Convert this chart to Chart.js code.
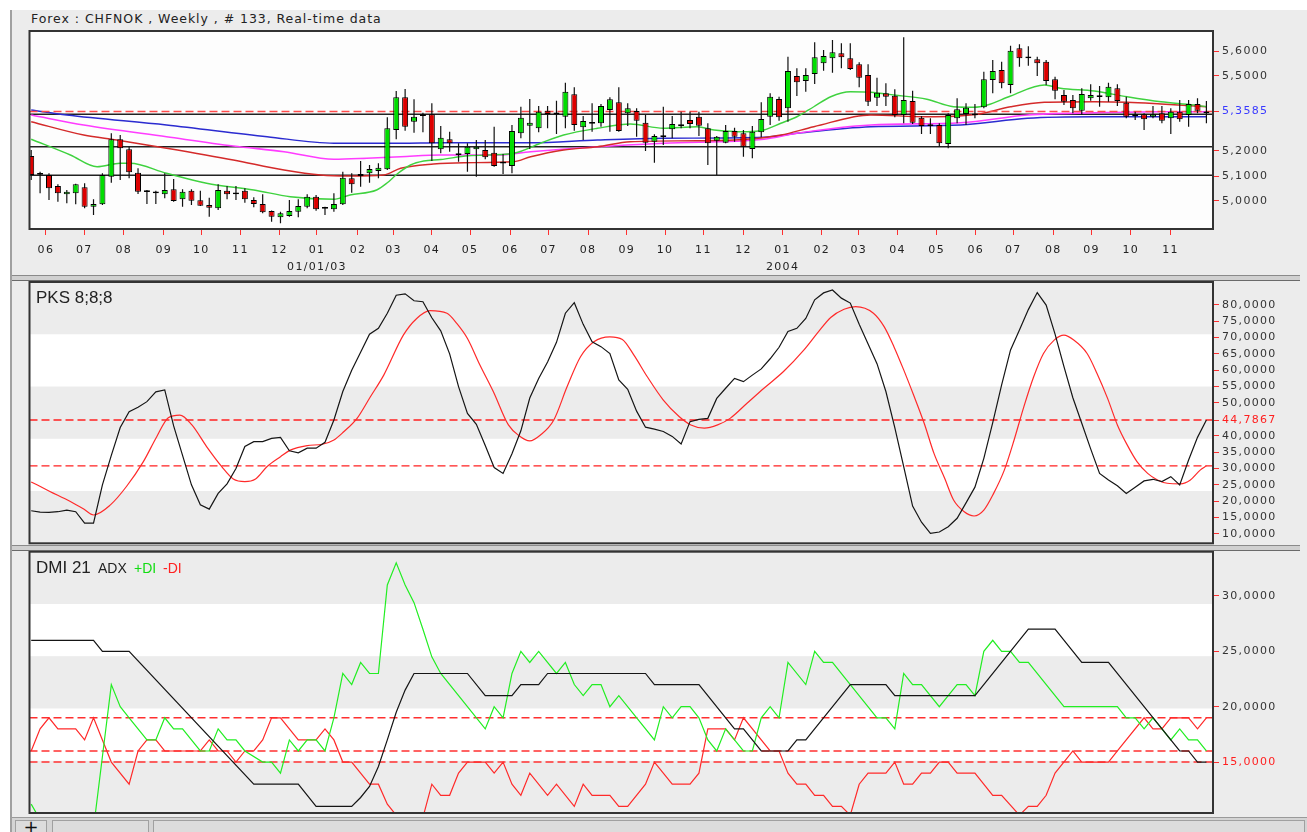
<!DOCTYPE html>
<html><head><meta charset="utf-8">
<script src="https://cdn.jsdelivr.net/npm/chart.js@4.4.1/dist/chart.umd.min.js"></script>
<style>
html,body{margin:0;padding:0;}
body{width:1307px;height:832px;position:relative;background:#ececec;overflow:hidden;font-family:'DejaVu Sans',sans-serif;}
#topstrip{position:absolute;left:0;top:0;width:1307px;height:10px;background:#fff;}
#leftstrip{position:absolute;left:0;top:0;width:10px;height:832px;background:#fff;}
#leftline{position:absolute;left:10px;top:10px;width:2px;height:822px;background:#a0a0a0;}
canvas{position:absolute;left:0;}
.split{position:absolute;left:12px;width:1288px;height:4px;background:#d0d0d0;border-top:1px solid #8a8a8a;border-bottom:1px solid #6a6a6a;}
#title{position:absolute;left:31px;top:12px;font-size:12.5px;letter-spacing:0.95px;color:#222;white-space:nowrap;line-height:14px;}
.lbl{position:absolute;font-family:'Liberation Sans',Arial,sans-serif;white-space:nowrap;line-height:17px;}
#status{position:absolute;left:12px;top:817px;width:1295px;height:15px;background:#d4d4d4;border-top:1px solid #9a9a9a;}
.sbox{position:absolute;top:2px;height:13px;background:#dcdcdc;border:1px solid #a0a0a0;border-bottom:none;}
</style></head>
<body>
<div id="topstrip"></div><div id="leftstrip"></div><div id="leftline"></div>
<div id="title">Forex : CHFNOK , Weekly , # 133, Real-time data</div>
<canvas id="c1" width="1307" height="265" style="top:10px"></canvas>
<canvas id="c2" width="1307" height="266" style="top:280px"></canvas>
<canvas id="c3" width="1307" height="266" style="top:550px"></canvas>
<div class="split" style="top:275px"></div>
<div class="split" style="top:545px"></div>
<div class="lbl" style="left:36px;top:289px;font-size:17px;color:#222">PKS 8;8;8</div>
<div class="lbl" style="left:36px;top:559px;font-size:17px;color:#222">DMI 21</div>
<div class="lbl" style="left:98px;top:560px;font-size:14px;color:#222">ADX</div>
<div class="lbl" style="left:134px;top:560px;font-size:14px;color:#11dd11">+DI</div>
<div class="lbl" style="left:163px;top:560px;font-size:14px;color:#ff2222">-DI</div>
<div id="status">
  <div class="sbox" style="left:3px;width:30px;font-size:18px;line-height:12px;text-align:center;color:#111">+</div>
  <div class="sbox" style="left:40px;width:95px"></div>
  <div class="sbox" style="left:141px;width:1150px"></div>
</div>
<script>
// ---------- DATA ----------
const openP = [5.180,5.108,5.104,5.060,5.027,5.031,5.055,4.977,4.987,5.097,5.247,5.207,5.113,5.041,5.036,5.027,5.047,5.007,5.041,5.003,
4.984,4.971,5.041,5.032,5.041,5.004,4.988,4.960,4.935,4.940,4.957,4.977,5.017,4.974,4.967,4.987,5.091,5.108,5.111,5.120,
5.127,5.284,5.415,5.317,5.345,5.347,5.207,5.247,5.189,5.188,5.207,5.204,5.193,5.155,5.140,5.271,5.301,5.291,5.361,5.352,
5.337,5.427,5.295,5.314,5.311,5.364,5.395,5.351,5.360,5.313,5.237,5.261,5.287,5.305,5.324,5.337,5.291,5.241,5.233,5.280,
5.271,5.208,5.275,5.337,5.408,5.371,5.500,5.480,5.508,5.551,5.571,5.591,5.571,5.547,5.504,5.413,5.431,5.421,5.344,5.400,
5.333,5.305,5.304,5.228,5.331,5.348,5.348,5.375,5.484,5.524,5.464,5.611,5.576,5.567,5.557,5.487,5.424,5.404,5.361,5.411,
5.421,5.415,5.451,5.393,5.345,5.347,5.337,5.351,5.331,5.357,5.344,5.388,5.351];
const highP = [5.204,5.117,5.111,5.067,5.044,5.069,5.071,5.007,5.111,5.271,5.264,5.217,5.131,5.044,5.041,5.111,5.088,5.047,5.047,5.041,
5.013,5.067,5.060,5.060,5.051,5.015,5.027,4.962,4.957,5.004,5.007,5.027,5.024,4.977,5.031,5.117,5.111,5.160,5.144,5.151,
5.335,5.440,5.448,5.407,5.353,5.391,5.300,5.277,5.231,5.231,5.244,5.244,5.297,5.188,5.304,5.377,5.408,5.380,5.380,5.401,
5.473,5.455,5.340,5.391,5.388,5.415,5.455,5.391,5.371,5.344,5.267,5.377,5.340,5.357,5.357,5.357,5.311,5.260,5.304,5.293,
5.284,5.300,5.395,5.431,5.417,5.577,5.531,5.531,5.635,5.604,5.644,5.631,5.631,5.555,5.547,5.493,5.471,5.447,5.655,5.441,
5.340,5.331,5.311,5.351,5.411,5.391,5.388,5.517,5.564,5.557,5.621,5.627,5.619,5.577,5.564,5.497,5.444,5.424,5.451,5.467,
5.460,5.473,5.467,5.417,5.357,5.351,5.380,5.380,5.371,5.404,5.404,5.411,5.400];
const lowP = [5.084,5.031,5.004,4.997,4.991,4.987,4.971,4.944,4.984,5.073,5.084,5.091,5.028,4.988,4.988,5.011,4.997,4.977,4.984,4.980,
4.937,4.964,5.007,5.004,4.993,4.975,4.951,4.917,4.911,4.937,4.935,4.971,4.961,4.944,4.957,4.984,5.033,5.057,5.073,5.091,
5.124,5.247,5.281,5.273,5.275,5.160,5.191,5.197,5.157,5.117,5.097,5.167,5.137,5.108,5.111,5.251,5.208,5.275,5.291,5.268,
5.291,5.281,5.244,5.277,5.297,5.277,5.277,5.300,5.257,5.200,5.153,5.224,5.251,5.291,5.291,5.260,5.144,5.104,5.231,5.237,
5.177,5.171,5.255,5.304,5.321,5.317,5.420,5.437,5.468,5.521,5.513,5.531,5.524,5.455,5.380,5.380,5.380,5.335,5.311,5.308,
5.268,5.268,5.217,5.211,5.311,5.304,5.331,5.371,5.431,5.451,5.431,5.537,5.541,5.500,5.464,5.407,5.384,5.351,5.344,5.401,
5.377,5.397,5.380,5.331,5.324,5.284,5.331,5.311,5.268,5.317,5.297,5.351,5.311];
const closeP = [5.104,5.110,5.051,5.031,5.037,5.067,4.977,4.988,5.104,5.247,5.211,5.115,5.037,5.039,5.034,5.044,5.000,5.037,5.001,4.981,
4.973,5.044,5.027,5.030,5.007,4.988,4.955,4.937,4.951,4.960,4.980,5.017,4.967,4.972,4.988,5.093,5.067,5.100,5.128,5.133,
5.291,5.415,5.297,5.337,5.343,5.231,5.253,5.231,5.187,5.217,5.217,5.175,5.140,5.153,5.280,5.333,5.313,5.357,5.348,5.350,
5.437,5.304,5.320,5.312,5.380,5.407,5.280,5.371,5.321,5.233,5.260,5.259,5.308,5.303,5.308,5.301,5.231,5.257,5.280,5.257,
5.217,5.277,5.328,5.417,5.335,5.520,5.475,5.504,5.575,5.580,5.595,5.575,5.528,5.493,5.397,5.433,5.417,5.344,5.404,5.313,
5.300,5.303,5.231,5.344,5.367,5.373,5.346,5.487,5.520,5.471,5.601,5.571,5.574,5.551,5.480,5.441,5.397,5.371,5.428,5.424,
5.419,5.457,5.400,5.337,5.343,5.327,5.347,5.321,5.357,5.327,5.388,5.361,5.3585];

// moving averages: [bar index, value]
const maGreen = [[0,5.247],[4.4,5.184],[7.4,5.137],[10,5.151],[11.1,5.151],[15.2,5.111],[19.7,5.071],[25,5.044],[29.1,5.017],[34,5.007],[35.8,5.024],[38.8,5.044],[40,5.073],[41.1,5.108],[42.6,5.144],[44.1,5.16],[46,5.166],[49.1,5.181],[54.2,5.191],[57.2,5.231],[59.8,5.264],[63.6,5.291],[67.3,5.308],[71,5.291],[74.8,5.297],[76.7,5.284],[80.4,5.277],[82.3,5.284],[84.2,5.311],[86,5.337],[87.9,5.377],[89.8,5.417],[92,5.437],[94.3,5.435],[96.9,5.424],[100.6,5.407],[103.6,5.377],[105.9,5.375],[107.4,5.384],[110,5.42],[113.8,5.464],[115.6,5.451],[119.4,5.44],[123.1,5.417],[126.9,5.397],[130.6,5.384],[132,5.377]];
const maRed = [[0,5.317],[5.9,5.264],[9.6,5.244],[15.2,5.211],[22.7,5.164],[28.4,5.124],[32.5,5.104],[35.8,5.1],[39.6,5.104],[41.5,5.131],[45.2,5.148],[48.6,5.153],[54.2,5.157],[56.1,5.177],[59.8,5.204],[63.6,5.217],[67.3,5.237],[74.8,5.241],[80.4,5.247],[84.2,5.264],[87.9,5.297],[94.3,5.344],[100.6,5.337],[106.3,5.347],[110,5.377],[113.8,5.395],[119.4,5.397],[123.1,5.395],[126.9,5.388],[132,5.377]];
const maMagenta = [[0,5.344],[5.9,5.304],[15.2,5.257],[22.7,5.22],[28.4,5.197],[34,5.167],[37.7,5.171],[41.5,5.177],[46,5.184],[52.3,5.184],[56.1,5.197],[63.6,5.217],[71,5.231],[82.3,5.247],[86,5.271],[94.3,5.304],[104.4,5.313],[111.9,5.344],[119.4,5.353],[126.9,5.357],[132,5.357]];
const maBlue = [[0,5.364],[4,5.344],[15.2,5.304],[26.5,5.257],[34,5.231],[41.5,5.231],[46,5.233],[56.1,5.233],[63.6,5.244],[71,5.251],[82.3,5.255],[86,5.271],[94.3,5.297],[104.4,5.304],[111.9,5.331],[119.4,5.337],[132,5.337]];
const priceLevels = [5.347, 5.217, 5.103];
const lastPrice = 5.3585;

// PKS oscillator
const pksBlack = [[0,17.1],[1,16.7],[2,16.6],[3,16.8],[4,17.3],[5,16.8],[6,13.3],[7,13.3],[8,25],[9,34],[10,42.5],[11,47.3],[12,48.7],[13,50.4],[14,53.4],[15,54],[16,43],[17,34],[18,25],[19,18.9],[20,17.6],[21,22.4],[22,25.3],[23,30],[24,36.7],[25,38.2],[26,38.2],[27,39.2],[28,39.5],[29,35.4],[30,34.8],[31,36.2],[32,36.2],[33,38],[34,44.8],[35,53.5],[36,60],[37,65.5],[38,71],[39,72.8],[40,77.4],[41,82.9],[42,83.3],[43,81.2],[44,80.9],[45,76],[46,72],[47,65],[48,55],[49,46.8],[50,43.5],[51,37],[52,30.3],[53,28.5],[54,34.5],[55,41.5],[56,51.5],[57,57.5],[58,62.5],[59,68.5],[60,77.4],[61,80.6],[62,74],[63,68.7],[64,67.2],[65,65.1],[66,57],[67,54.2],[68,47.5],[69,42.6],[70,42],[71,41.3],[72,39.8],[73,37.5],[74,44.3],[75,45],[76,45.3],[77,51.4],[78,54.5],[79,57.5],[80,56.5],[81,58.5],[82,60.4],[83,63.5],[84,67],[85,71.8],[86,72.8],[87,75.8],[88,81.5],[89,83.6],[90,84.5],[91,82],[92,80.5],[93,74],[94,68],[95,62],[96,53.5],[97,42.5],[98,30.6],[99,18.5],[100,13.6],[101,10.2],[102,10.6],[103,12.2],[104,14.8],[105,19.5],[106,24.3],[107,33.1],[108,44],[109,55.5],[110,66.2],[111,72.3],[112,78.5],[113,83.7],[114,79.9],[115,71],[116,61.1],[117,51.6],[118,43.8],[119,36],[120,28.5],[121,26.5],[122,24.7],[123,22.4],[124,24.3],[125,26.2],[126,26.7],[127,26],[128,27.5],[129,25],[130,32.6],[131,39.5],[132,44.7867]];
const pksRed = [[0,25.9],[2.1,23],[4.4,19.9],[5.9,17.6],[7,15.8],[8.9,18.9],[10.7,24.5],[12.6,32.1],[14.1,39.7],[15.4,45.5],[16.7,46.3],[18.05,43.3],[19.7,36.7],[21.4,30.6],[22.7,26.8],[24,26],[25.2,26.8],[26.5,30.6],[28,33.6],[29.1,35.6],[31,37],[32.7,37.4],[34,38.7],[35.1,41.2],[36.6,45.3],[38.1,51.9],[39.6,58.5],[41.8,70.7],[43.3,75.8],[44.8,78.2],[46.7,77.4],[47.8,74.3],[49,69.7],[50.4,61.6],[51.9,53.5],[53.6,43.3],[54.8,40],[56,38.4],[57.2,40.2],[58.7,44.8],[60.2,55],[61.7,64.1],[63.2,68.7],[65,70.2],[66.4,69.4],[67.7,64.6],[69.2,58],[71,50.9],[72.8,45.8],[74.1,43.3],[75.6,42.3],[77.1,43.3],[78.5,45.3],[80.4,49.9],[82.3,54.5],[84.5,59.6],[86.8,66.2],[88.3,71.3],[89.8,76.1],[91.3,78.6],[92.6,79.4],[94.6,77.4],[95.8,73.3],[96.9,67.2],[98,60.1],[99.1,52.5],[100.3,43.8],[101.4,34.6],[102.6,27],[103.6,20.4],[104.8,16.8],[105.9,15.5],[107,17.3],[108.1,22.4],[109.3,29.5],[110.4,38.7],[111.5,48.9],[112.6,58],[113.7,65.1],[114.9,69.2],[116,70.7],[117.1,69.2],[118.6,65.1],[119.7,59.1],[120.9,51.4],[122,43.3],[123.1,37.2],[124.2,32.1],[125.4,28.5],[126.5,26.5],[127.6,25.5],[129.1,25.3],[130.2,26.5],[131.3,29.5],[132,30.8]];
const pksLevels = [44.7867, 30.8];

// DMI 21
const adx = [[0,26],[7,26],[8,25],[11,25],[25,13],[30,13],[32,11],[36,11],[37,11.8],[38,12.8],[39,14.6],[40,17],[41,19.5],[42,21.5],[43,23],[49,23],[51,21],[54,21],[55,22],[57,22],[58,23],[69,23],[70,22],[75,22],[79,18],[80,18],[82,16],[85,16],[86,17],[87,17],[92,22],[96,22],[97,21],[106,21],[112,27],[115,27],[118,24],[121,24],[129,16],[130,16],[131,15],[132,15]];
const plusDI = [[0,11.2],[1,9.8],[2,8],[6,8],[7,9],[8,15.5],[9,22],[10,20],[11,19],[13,17],[14,17],[15,19],[16,18],[17,18],[19,16],[20,16],[21,18],[22,17],[23,17],[24,16],[26,15],[27,15],[28,14],[29,17],[30,16],[31,17],[32,17],[33,16],[34,19],[35,23],[36,22],[37,24],[38,23],[39,23],[40,31],[41,33],[42,31],[43,29.4],[44,27],[45,24.5],[46,23],[51,18],[52,20],[53,19],[54,23],[55,25],[56,24],[57,25],[59,23],[60,24],[61,22],[62,21],[63,22],[64,22],[65,20],[66,21],[70,17],[71,20],[72,19],[73,20],[74,20],[75,19],[76,17],[77,16],[78,18],[79,17],[80,16],[81,16],[82,19],[83,20],[84,19],[85,24],[87,22],[88,25],[89,24],[90,24],[92,22],[95,19],[96,19],[97,18],[98,23],[99,22],[100,22],[102,20],[103,21],[104,22],[105,22],[106,21],[107,25],[108,26],[109,25],[110,25],[111,24],[112,24],[116,20],[122,20],[123,19],[124,19],[125,18],[126,19],[128,17],[129,18],[130,17],[131,17],[132,16]];
const minusDI = [[0,16],[1,18],[2,19],[3,18],[5,18],[6,17],[7,19],[8,17],[9,15],[11,13],[12,16],[13,17],[14,17],[15,16],[19,16],[20,17],[21,16],[22,16],[23,15],[24,16],[25,16],[26,17],[27,19],[28,19],[30,17],[32,17],[33,18],[34,17],[35,15],[36,15],[38,13],[39,13],[40,11.2],[41,10.2],[42,9],[43,9],[44,10],[45,13],[46,12],[47,12],[48,14],[49,15],[51,15],[52,14],[53,15],[54,13],[55,12],[56,14],[58,12],[59,13],[61,11],[62,13],[63,12],[65,12],[66,11],[67,11],[69,13],[70,15],[72,13],[74,13],[75,14],[76,18],[78,18],[79,17],[80,19],[83,16],[84,16],[85,14],[86,13],[87,13],[88,12],[89,12],[90,11],[91,11],[92,10.2],[93,13],[94,14],[96,14],[97,15],[98,13],[99,13],[100,14],[101,14],[102,15],[103,15],[104,14],[106,14],[108,12],[109,12],[111,10.2],[112,11],[113,11],[114,12],[115,14],[117,16],[118,15],[121,15],[122,16],[125,19],[126,18],[127,18],[128,19],[130,19],[131,18],[132,19]];
const dmiLevels = [19, 16, 15];

// axis ticks
const monthTickPos = [1.65,5.96,10.4,14.9,19.1,23.5,27.9,32.1,36.7,40.7,45.0,49.3,53.8,58.1,62.55,66.9,71.2,75.5,80.0,84.4,88.8,92.96,97.3,101.7,106.1,110.3,114.8,119.1,123.5,127.98];
const monthLabels = ['06','07','08','09','10','11','12','01','02','03','04','05','06','07','08','09','10','11','12','01','02','03','04','05','06','07','08','09','10','11'];
const yearLabels = {7:'01/01/03', 19:'2004'};
const priceTicks = [5.0, 5.1, 5.2, 5.3585, 5.5, 5.6];
const pksTicks = [80,75,70,65,60,55,50,44.7867,40,35,30,25,20,15,10];
const dmiTicks = [30,25,20,15];

// ---------- CHARTS ----------
Chart.defaults.font.family = "'DejaVu Sans', Verdana, sans-serif";
Chart.defaults.font.size = 11;
Chart.defaults.animation = false;

const XMIN = -0.19, XMAX = 132.74;
const GREEN = '#00dd00', RED = '#dd0000';
const fmt = v => v.toFixed(4).replace('.', ',');
const pts = arr => arr.map(([x, y]) => ({x, y}));
const hline = (v) => [{x: XMIN, y: v}, {x: XMAX, y: v}];

const panelPlugin = {
  id: 'panel',
  beforeDraw(chart, args, opts) {
    const {ctx, chartArea: a} = chart;
    ctx.save();
    if (opts.bands) {
      const h = (a.bottom - a.top) / 5;
      for (let k = 0; k < 5; k++) {
        ctx.fillStyle = k % 2 === 0 ? '#ececec' : '#ffffff';
        ctx.fillRect(a.left, a.top + k * h, a.right - a.left, h + 0.5);
      }
    } else {
      ctx.fillStyle = '#fdfdfd';
      ctx.fillRect(a.left, a.top, a.right - a.left, a.bottom - a.top);
    }
    ctx.restore();
    ctx.letterSpacing = '1.3px';
  },
  afterDraw(chart) {
    const {ctx, chartArea: a} = chart;
    ctx.save();
    ctx.strokeStyle = '#333';
    ctx.lineWidth = 2;
    ctx.strokeRect(a.left, a.top, a.right - a.left, a.bottom - a.top);
    ctx.restore();
  }
};

function xScale(display) {
  const s = {
    type: 'linear', min: XMIN, max: XMAX, offset: false, display,
    grid: {offset: false, drawOnChartArea: false, drawTicks: true, tickLength: 6, tickColor: '#ff3030', lineWidth: 1},
    border: {display: false},
    afterBuildTicks(s) { s.ticks = monthTickPos.map(v => ({value: v})); },
    ticks: {
      autoSkip: false, maxRotation: 0, minRotation: 0, padding: 7, color: '#222',
      font: {size: 11, lineHeight: 1.5},
      callback: (v, i) => yearLabels[i] ? [monthLabels[i], yearLabels[i]] : monthLabels[i]
    }
  };
  if (display) s.afterFit = sc => { sc.height = 46; sc.paddingLeft = 0; sc.paddingRight = 0; };
  return s;
}
function yScale(min, max, tickVals, hiVal, hiColor) {
  return {
    position: 'right', min, max,
    grid: {drawOnChartArea: false, drawTicks: true, tickLength: 6, tickColor: '#ff3030'},
    border: {display: false},
    afterBuildTicks(s) { s.ticks = tickVals.map(v => ({value: v})); },
    afterFit(s) { s.width = 94; s.paddingTop = 0; s.paddingBottom = 0; },
    ticks: {
      autoSkip: false, padding: 3, font: {size: 11},
      color: ctx => (ctx.tick && Math.abs(ctx.tick.value - hiVal) < 1e-6) ? hiColor : '#333',
      callback: v => fmt(v)
    }
  };
}
const lineDS = (data, color, width, extra) => Object.assign({
  type: 'line', data, borderColor: color, borderWidth: width, pointRadius: 0, tension: 0, fill: false, order: 5
}, extra || {});

// Chart 1: candles
const idx = openP.map((_, i) => i);
const bodies = idx.map(i => {
  let lo = Math.min(openP[i], closeP[i]), hi = Math.max(openP[i], closeP[i]);
  if (hi - lo < 0.007) { const m = (hi + lo) / 2; lo = m - 0.0035; hi = m + 0.0035; }
  return {x: i, y: [lo, hi]};
});
const wicks = idx.map(i => ({x: i, y: [lowP[i], highP[i]]}));

new Chart(document.getElementById('c1'), {
  type: 'bar',
  data: {datasets: [
    {type: 'bar', data: bodies, barThickness: 6, grouped: false, borderSkipped: false, inflateAmount: 0,
     borderWidth: 1, borderColor: '#000', order: 0,
     backgroundColor: ctx => { const i = ctx.dataIndex; const d = closeP[i] - openP[i];
       if (Math.abs(d) < 0.007) return '#000'; return d > 0 ? GREEN : RED; }},
    {type: 'bar', data: wicks, barThickness: 1.2, grouped: false, borderSkipped: false, inflateAmount: 0,
     borderWidth: 0, backgroundColor: '#111', order: 1},
    lineDS(pts(maGreen), '#3fd23f', 1.4, {cubicInterpolationMode: 'monotone'}),
    lineDS(pts(maRed), '#d42a2a', 1.4, {cubicInterpolationMode: 'monotone'}),
    lineDS(pts(maMagenta), '#ff3cff', 1.6, {cubicInterpolationMode: 'monotone'}),
    lineDS(pts(maBlue), '#2b2bd0', 1.4, {cubicInterpolationMode: 'monotone'}),
    ...priceLevels.map(v => lineDS(hline(v), '#222', 1.5, {order: 6})),
    lineDS(hline(lastPrice), '#ff4a4a', 1.5, {borderDash: [8, 4], order: 4})
  ]},
  options: {
    responsive: false, events: [],
    layout: {padding: {left: 29.5, top: 21, right: 0, bottom: 0}},
    plugins: {legend: {display: false}, tooltip: {enabled: false}, panel: {bands: false}},
    scales: {x: xScale(true), y: yScale(4.888, 5.68, priceTicks, lastPrice, '#3a3aff')}
  },
  plugins: [panelPlugin]
});

// Chart 2: PKS
new Chart(document.getElementById('c2'), {
  type: 'line',
  data: {datasets: [
    ...pksLevels.map(v => lineDS(hline(v), '#ff2020', 1.4, {borderDash: [8, 4], order: 6})),
    lineDS(pts(pksRed), '#ff2a2a', 1.2, {cubicInterpolationMode: 'monotone', order: 2}),
    lineDS(pts(pksBlack), '#151515', 1.2, {order: 1})
  ]},
  options: {
    responsive: false, events: [],
    layout: {padding: {left: 29.5, top: 2, right: 0, bottom: 2.7}},
    plugins: {legend: {display: false}, tooltip: {enabled: false}, panel: {bands: true}},
    scales: {x: xScale(false), y: yScale(7.16, 86.93, pksTicks, 44.7867, '#ff2020')}
  },
  plugins: [panelPlugin]
});

// Chart 3: DMI
new Chart(document.getElementById('c3'), {
  type: 'line',
  data: {datasets: [
    ...dmiLevels.map(v => lineDS(hline(v), '#ff3030', 1.4, {borderDash: [8, 4], order: 6})),
    lineDS(pts(minusDI), '#ff2a2a', 1.2, {order: 3}),
    lineDS(pts(plusDI), '#22ee22', 1.2, {order: 2}),
    lineDS(pts(adx), '#151515', 1.2, {order: 1})
  ]},
  options: {
    responsive: false, events: [],
    layout: {padding: {left: 29.5, top: 1.7, right: 0, bottom: 3}},
    plugins: {legend: {display: false}, tooltip: {enabled: false}, panel: {bands: true}},
    scales: {x: xScale(false), y: yScale(10.4, 34.0, dmiTicks, 15, '#ff2020')}
  },
  plugins: [panelPlugin]
});
</script>
</body></html>
